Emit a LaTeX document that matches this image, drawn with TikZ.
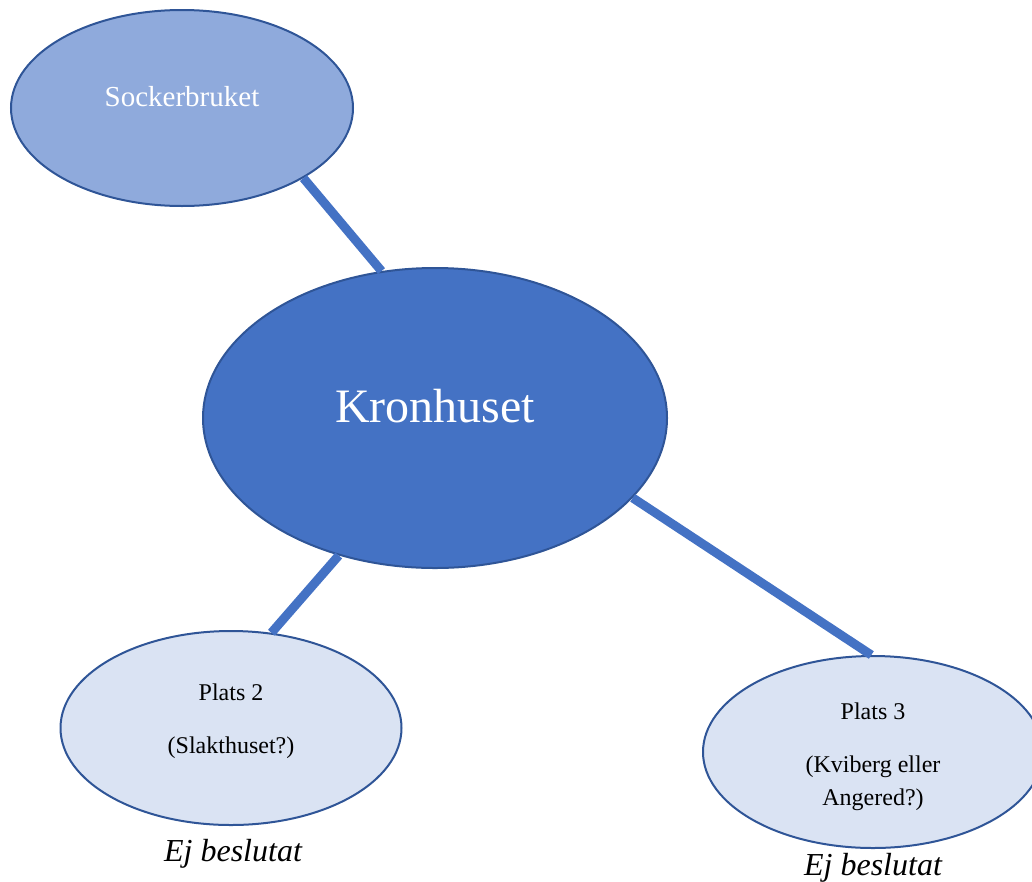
\documentclass[tikz,border=0pt]{standalone}
\usepackage{fontspec}
\setmainfont{Liberation Serif}
\usetikzlibrary{shapes.geometric}
\definecolor{edgeblue}{HTML}{2F5597}
\definecolor{midblue}{HTML}{4472C4}
\definecolor{lightblue}{HTML}{8FAADC}
\definecolor{paleblue}{HTML}{DAE3F3}
\tikzset{
  oval/.style={ellipse, draw=edgeblue, line width=2pt, inner sep=0pt},
  link/.style={draw=midblue, line width=9pt},
  lbl/.style={anchor=base, inner sep=0pt, font=\fontsize{24}{28}\selectfont},
}
\begin{document}
\begin{tikzpicture}[x=1pt,y=-1pt]
\useasboundingbox (0,0) rectangle (1032,881);
\clip (0,0) rectangle (1032,881);
\node[oval, fill=lightblue, minimum width=342pt, minimum height=196pt] (sock) at (182,108) {};
\node[oval, fill=midblue, minimum width=464pt, minimum height=300pt] (kron) at (435,418) {};
\node[oval, fill=paleblue, minimum width=341pt, minimum height=194pt] (p2) at (231,728) {};
\node[oval, fill=paleblue, minimum width=340pt, minimum height=192pt] (p3) at (873,752) {};
\draw[link] (sock.-30) -- (kron.110);
\draw[link] (kron.235) -- (p2.67);
\draw[link] (kron.-22) -- (p3.91);
\node[lbl, text=white, font=\fontsize{29}{34}\selectfont] (tsock) at (182,106) {Sockerbruket};
\node[lbl, text=white, font=\fontsize{48}{56}\selectfont] (tkron) at (435,422) {Kronhuset};
\node[lbl] (tp2a) at (231,700) {Plats 2};
\node[lbl] (tp2b) at (231,753) {(Slakthuset?)};
\node[lbl] (tp3a) at (873,719) {Plats 3};
\node[lbl] (tp3b) at (873,772) {(Kviberg eller};
\node[lbl] (tp3c) at (873,805) {Angered?)};
\node[lbl, font=\fontsize{32}{38}\selectfont\itshape] (ej2) at (233,861) {Ej beslutat};
\node[lbl, font=\fontsize{32}{38}\selectfont\itshape] (ej3) at (873,875) {Ej beslutat};
\end{tikzpicture}
\end{document}
